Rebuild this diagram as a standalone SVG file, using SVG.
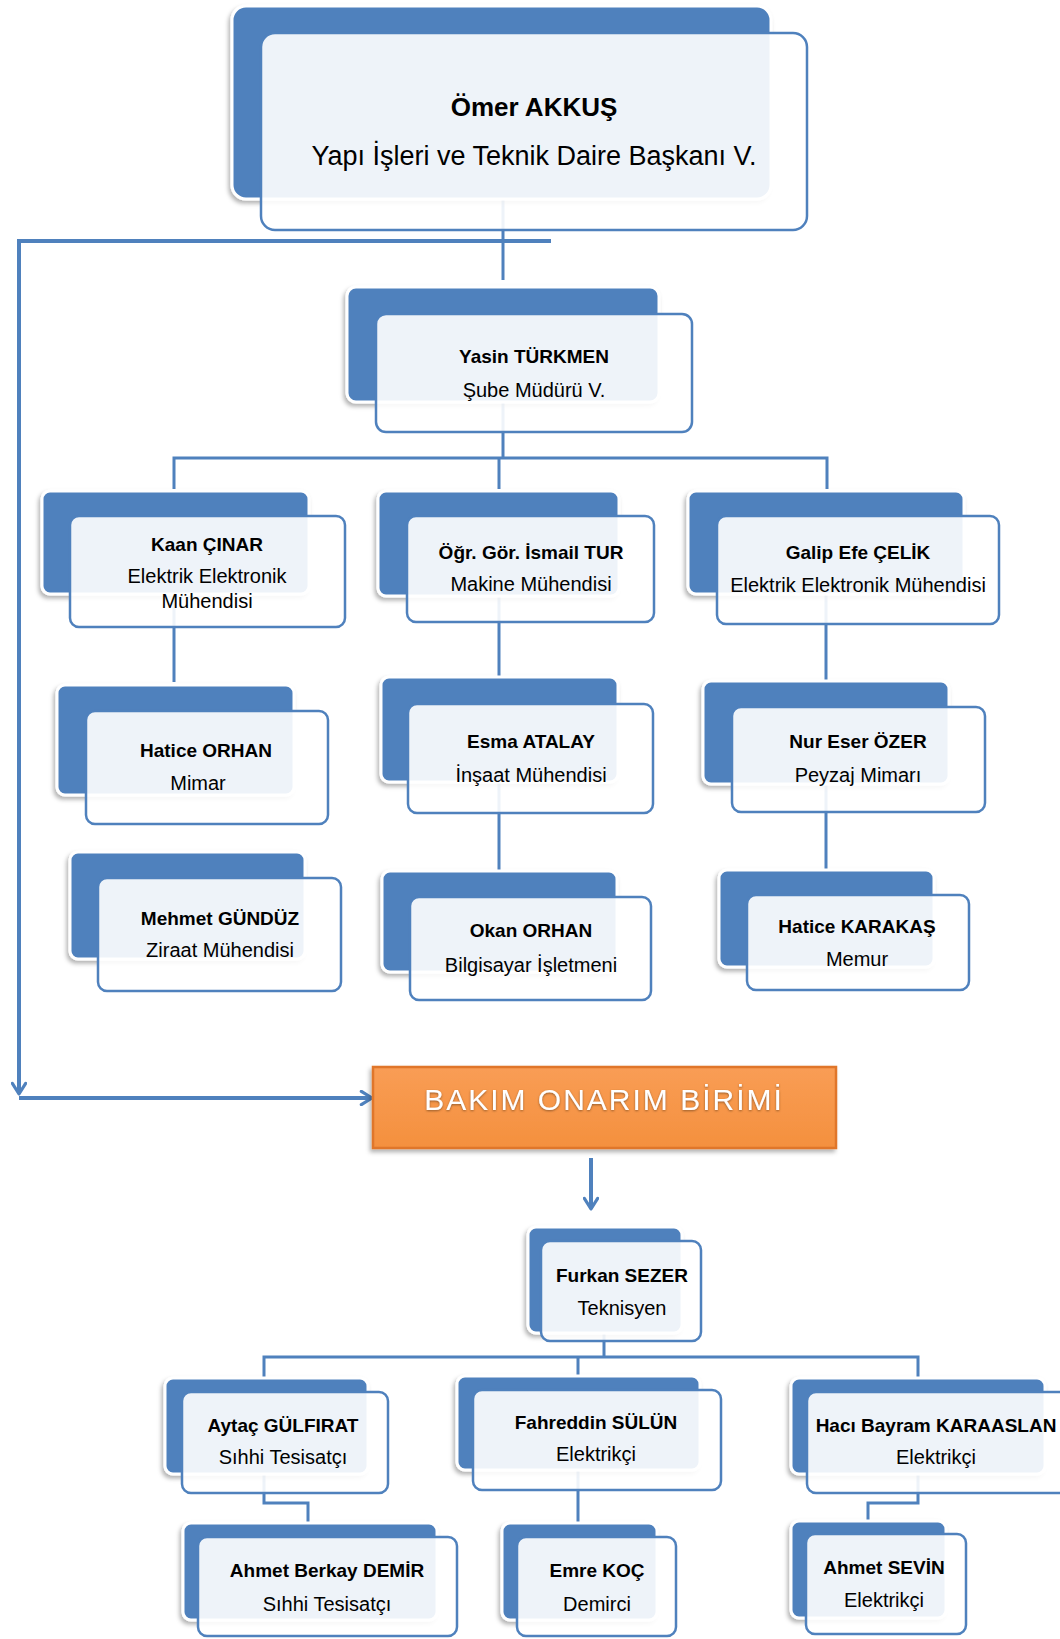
<svg xmlns="http://www.w3.org/2000/svg" width="1060" height="1639" viewBox="0 0 1060 1639">
<defs>
<filter id="sh" x="-10%" y="-10%" width="120%" height="130%">
<feDropShadow dx="-2" dy="3" stdDeviation="2" flood-color="#000" flood-opacity="0.3"/>
</filter>
<filter id="tsh" x="-5%" y="-20%" width="110%" height="140%">
<feDropShadow dx="0" dy="1" stdDeviation="0.8" flood-color="#7a4a20" flood-opacity="0.8"/>
</filter>
<linearGradient id="og" x1="0" y1="0" x2="0" y2="1">
<stop offset="0" stop-color="#f99d55"/>
<stop offset="1" stop-color="#f4903e"/>
</linearGradient>
<marker id="arr" viewBox="0 0 12 12" refX="10" refY="6" markerWidth="16" markerHeight="16" orient="auto" markerUnits="userSpaceOnUse">
<path d="M2,1 L10,6 L2,11" fill="none" stroke="#4f81bd" stroke-width="2.4" stroke-linejoin="round" stroke-linecap="round"/>
</marker>
<style>
.back{fill:#4f81bd;stroke:#fff;stroke-width:3;filter:url(#sh)}
.front{fill:#fff;fill-opacity:0.9;stroke:#4f81bd;stroke-width:2.5}
.c{fill:none;stroke:#4f81bd;stroke-width:3}
.cw{fill:none;stroke:#4f81bd;stroke-width:4}
.n{font-family:"Liberation Sans",Arial,sans-serif;font-weight:bold;font-size:19px;fill:#000;text-anchor:middle}
.r{font-family:"Liberation Sans",Arial,sans-serif;font-size:20px;fill:#000;text-anchor:middle}
</style>
</defs>
<rect width="1060" height="1639" fill="#fff"/>

<g id="connectors">
<path class="c" d="M503,199 V280"/>
<path class="cw" d="M551,241 H19 V1094" marker-end="url(#arr)"/>
<path class="cw" d="M19,1098 H372" marker-end="url(#arr)"/>
<path class="cw" d="M591,1158 V1209" marker-end="url(#arr)"/>
<path class="c" d="M503,402 V458"/>
<path class="c" d="M174,489 V458 H827 V489"/>
<path class="c" d="M499,458 V489"/>
<path class="c" d="M174,594 V682"/>
<path class="c" d="M499,596 V677"/>
<path class="c" d="M826,594 V680"/>
<path class="c" d="M499,782 V870"/>
<path class="c" d="M826,784 V870"/>
<path class="c" d="M604,1333 V1357"/>
<path class="c" d="M264,1378 V1357 H918 V1378"/>
<path class="c" d="M578,1357 V1376"/>
<path class="c" d="M264,1474 V1503 H308 V1523"/>
<path class="c" d="M578,1470 V1523"/>
<path class="c" d="M918,1474 V1503 H868 V1521"/>
</g>

<g id="n-omer">
<rect class="back" x="232" y="6" width="539" height="193" rx="14"/>
<rect class="front" x="261" y="33" width="546" height="197" rx="14"/>
<text class="n" x="534" y="116" style="font-size:26px">Ömer AKKUŞ</text>
<text class="r" x="534" y="165" style="font-size:27px">Yapı İşleri ve Teknik Daire Başkanı V.</text>
</g>

<g id="n-yasin">
<rect class="back" x="347" y="287" width="312" height="115" rx="9"/>
<rect class="front" x="376" y="314" width="316" height="118" rx="10"/>
<text class="n" x="534" y="363">Yasin TÜRKMEN</text>
<text class="r" x="534" y="397">Şube Müdürü V.</text>
</g>

<g id="n-kaan">
<rect class="back" x="42" y="491" width="267" height="103" rx="8"/>
<rect class="front" x="70" y="516" width="275" height="111" rx="9"/>
<text class="n" x="207" y="551">Kaan ÇINAR</text>
<text class="r" x="207" y="583">Elektrik Elektronik</text>
<text class="r" x="207" y="608">Mühendisi</text>
</g>

<g id="n-ismail">
<rect class="back" x="378" y="491" width="241" height="105" rx="8"/>
<rect class="front" x="407" y="516" width="247" height="106" rx="9"/>
<text class="n" x="531" y="559">Öğr. Gör. İsmail TUR</text>
<text class="r" x="531" y="591">Makine Mühendisi</text>
</g>

<g id="n-galip">
<rect class="back" x="688" y="491" width="276" height="103" rx="8"/>
<rect class="front" x="717" y="516" width="282" height="108" rx="9"/>
<text class="n" x="858" y="559">Galip Efe ÇELİK</text>
<text class="r" x="858" y="592">Elektrik Elektronik Mühendisi</text>
</g>

<g id="n-haticeorhan">
<rect class="back" x="57" y="685" width="237" height="110" rx="8"/>
<rect class="front" x="86" y="711" width="242" height="113" rx="9"/>
<text class="n" x="206" y="757">Hatice ORHAN</text>
<text class="r" x="198" y="790">Mimar</text>
</g>

<g id="n-esma">
<rect class="back" x="381" y="677" width="237" height="105" rx="8"/>
<rect class="front" x="408" y="704" width="245" height="109" rx="9"/>
<text class="n" x="531" y="748">Esma ATALAY</text>
<text class="r" x="531" y="782">İnşaat Mühendisi</text>
</g>

<g id="n-nur">
<rect class="back" x="703" y="681" width="246" height="103" rx="8"/>
<rect class="front" x="732" y="707" width="253" height="105" rx="9"/>
<text class="n" x="858" y="748">Nur Eser ÖZER</text>
<text class="r" x="858" y="782">Peyzaj Mimarı</text>
</g>

<g id="n-mehmet">
<rect class="back" x="70" y="852" width="235" height="107" rx="8"/>
<rect class="front" x="98" y="878" width="243" height="113" rx="9"/>
<text class="n" x="220" y="925">Mehmet GÜNDÜZ</text>
<text class="r" x="220" y="957">Ziraat Mühendisi</text>
</g>

<g id="n-okan">
<rect class="back" x="382" y="871" width="235" height="101" rx="8"/>
<rect class="front" x="410" y="897" width="241" height="103" rx="9"/>
<text class="n" x="531" y="937">Okan ORHAN</text>
<text class="r" x="531" y="972">Bilgisayar İşletmeni</text>
</g>

<g id="n-haticekarakas">
<rect class="back" x="719" y="870" width="215" height="97" rx="8"/>
<rect class="front" x="747" y="895" width="222" height="95" rx="9"/>
<text class="n" x="857" y="933">Hatice KARAKAŞ</text>
<text class="r" x="857" y="966">Memur</text>
</g>

<g id="n-bakim">
<rect x="373" y="1067" width="463" height="81" fill="url(#og)" stroke="#e0762a" stroke-width="2.5" filter="url(#sh)"/>
<text x="604" y="1110" filter="url(#tsh)" style="font-family:'Liberation Sans',Arial,sans-serif;font-size:30px;fill:#fff;text-anchor:middle;letter-spacing:2px">BAKIM ONARIM BİRİMİ</text>
</g>

<g id="n-furkan">
<rect class="back" x="528" y="1227" width="154" height="106" rx="8"/>
<rect class="front" x="541" y="1241" width="160" height="100" rx="9"/>
<text class="n" x="622" y="1282">Furkan SEZER</text>
<text class="r" x="622" y="1315">Teknisyen</text>
</g>

<g id="n-aytac">
<rect class="back" x="165" y="1378" width="203" height="96" rx="8"/>
<rect class="front" x="182" y="1392" width="206" height="101" rx="9"/>
<text class="n" x="283" y="1432">Aytaç GÜLFIRAT</text>
<text class="r" x="283" y="1464">Sıhhi Tesisatçı</text>
</g>

<g id="n-fahreddin">
<rect class="back" x="457" y="1376" width="243" height="94" rx="8"/>
<rect class="front" x="473" y="1390" width="248" height="100" rx="9"/>
<text class="n" x="596" y="1429">Fahreddin SÜLÜN</text>
<text class="r" x="596" y="1461">Elektrikçi</text>
</g>

<g id="n-haci">
<rect class="back" x="791" y="1378" width="254" height="96" rx="8"/>
<rect class="front" x="807" y="1392" width="262" height="101" rx="9"/>
<text class="n" x="936" y="1432">Hacı Bayram KARAASLAN</text>
<text class="r" x="936" y="1464">Elektrikçi</text>
</g>

<g id="n-ahmetberkay">
<rect class="back" x="183" y="1523" width="254" height="97" rx="8"/>
<rect class="front" x="198" y="1537" width="259" height="99" rx="9"/>
<text class="n" x="327" y="1577">Ahmet Berkay DEMİR</text>
<text class="r" x="327" y="1611">Sıhhi Tesisatçı</text>
</g>

<g id="n-emre">
<rect class="back" x="502" y="1523" width="155" height="97" rx="8"/>
<rect class="front" x="517" y="1537" width="159" height="99" rx="9"/>
<text class="n" x="597" y="1577">Emre KOÇ</text>
<text class="r" x="597" y="1611">Demirci</text>
</g>

<g id="n-ahmetsevin">
<rect class="back" x="791" y="1521" width="155" height="97" rx="8"/>
<rect class="front" x="806" y="1534" width="160" height="100" rx="9"/>
<text class="n" x="884" y="1574">Ahmet SEVİN</text>
<text class="r" x="884" y="1607">Elektrikçi</text>
</g>
</svg>
